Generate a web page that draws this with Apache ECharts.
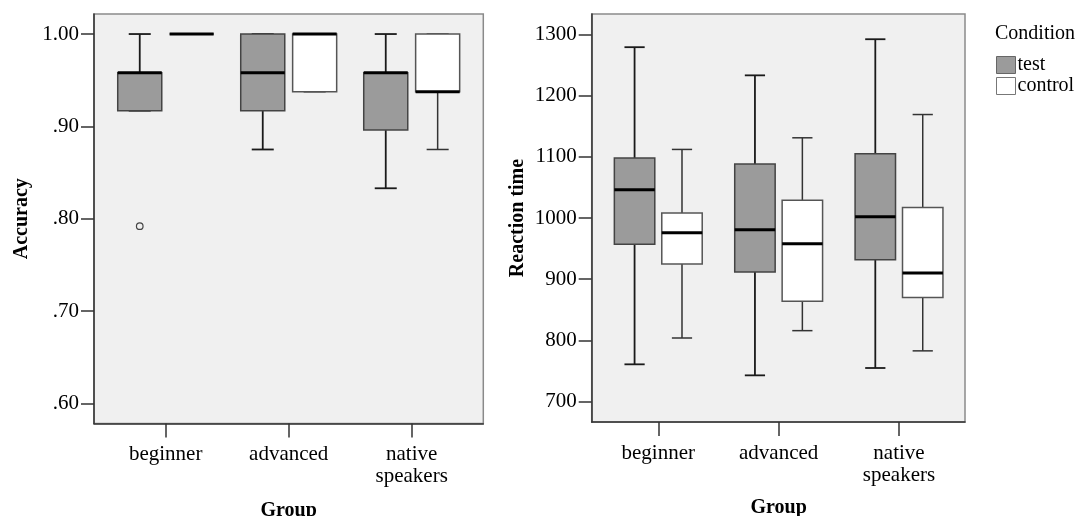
<!DOCTYPE html>
<html>
<head>
<meta charset="utf-8">
<script src="https://cdn.jsdelivr.net/npm/echarts@6/dist/echarts.min.js"></script>
<style>
html,body{margin:0;padding:0;background:#fff;}
#chart{width:1081px;height:516px;}
</style>
</head>
<body>
<div id="chart"></div>
<script>
// ---- data ----
const groups = ['beginner', 'advanced', 'native\nspeakers'];
// [low whisker, Q1, median, Q3, high whisker]
const accTest = [
  [0.917, 0.917, 0.958, 0.958, 1.000],
  [0.875, 0.917, 0.958, 1.000, 1.000],
  [0.833, 0.896, 0.958, 0.958, 1.000]
];
const accControl = [
  [1.000, 1.000, 1.000, 1.000, 1.000],
  [0.9375, 0.9375, 1.000, 1.000, 1.000],
  [0.875, 0.9375, 0.9375, 1.000, 1.000]
];
const accTestOutliers = [[0, 0.792]];
const rtTest = [
  [761, 957, 1046, 1098, 1279],
  [743, 912, 981, 1088, 1233],
  [755, 932, 1002, 1105, 1292]
];
const rtControl = [
  [804, 925, 976, 1008, 1112],
  [816, 864, 958, 1029, 1131],
  [783, 870, 910, 1017, 1169]
];
const accTickValues = [0.6, 0.7, 0.8, 0.9, 1.0];
const accTickLabels = ['.60', '.70', '.80', '.90', '1.00'];
const rtTickValues = [700, 800, 900, 1000, 1100, 1200, 1300];
const rtTickLabels = ['700', '800', '900', '1000', '1100', '1200', '1300'];
const legendNames = ['test', 'control'];

// ---- styles ----
const FONT = '"Liberation Serif", "DejaVu Serif", serif';
const TEST_FILL = '#9b9b9b';
const CONTROL_FILL = '#ffffff';

function toRows(arr) { return arr.map((r, i) => [i].concat(r)); }

function makeBoxRender(offsetFrac, widthFrac, fill, stroke, wColor, wWidth) {
  return function (params, api) {
    const ci = api.value(0);
    const band = api.size([1, 0])[0];
    const cx = api.coord([ci, api.value(3)])[0] + offsetFrac * band;
    const w = widthFrac * band;
    const cap = w / 2;
    const Y = v => api.coord([ci, v])[1];
    const yl = Y(api.value(1)), yq1 = Y(api.value(2)), ym = Y(api.value(3)),
          yq3 = Y(api.value(4)), yh = Y(api.value(5));
    const ls = { stroke: wColor, lineWidth: wWidth };
    const children = [
      { type: 'line', shape: { x1: cx, y1: yh, x2: cx, y2: yq3 }, style: ls },
      { type: 'line', shape: { x1: cx, y1: yq1, x2: cx, y2: yl }, style: ls },
      { type: 'line', shape: { x1: cx - cap / 2, y1: yh, x2: cx + cap / 2, y2: yh }, style: ls },
      { type: 'line', shape: { x1: cx - cap / 2, y1: yl, x2: cx + cap / 2, y2: yl }, style: ls },
      { type: 'rect', shape: { x: cx - w / 2, y: yq3, width: w, height: yq1 - yq3 },
        style: { fill: fill, stroke: stroke, lineWidth: 1.5 } },
      { type: 'line', shape: { x1: cx - w / 2, y1: ym, x2: cx + w / 2, y2: ym },
        style: { stroke: '#000', lineWidth: 3 } }
    ];
    return { type: 'group', children: children };
  };
}

function makeOutlierRender(offsetFrac) {
  return function (params, api) {
    const ci = api.value(0);
    const band = api.size([1, 0])[0];
    const p = api.coord([ci, api.value(1)]);
    return { type: 'circle', shape: { cx: p[0] + offsetFrac * band, cy: p[1], r: 3.3 },
             style: { fill: 'none', stroke: '#444', lineWidth: 1.2 } };
  };
}

// panel geometry (outer frame and inner band region)
const L = { left: 94, top: 14, width: 389.3, height: 409.5, innerLeft: 104.2, innerWidth: 369 };
const R = { left: 591.7, top: 14, width: 373.3, height: 408, innerLeft: 598.1, innerWidth: 361.1 };
const accMin = 0.5783, accMax = 1.0217;
const rtMin = 666.8, rtMax = 1333.2;

function outerGrid(p) {
  return { left: p.left, top: p.top, width: p.width, height: p.height, show: true,
           backgroundColor: '#f0f0f0', borderColor: '#8a8a8a', borderWidth: 1.5,
           containLabel: false, outerBoundsMode: 'none' };
}
function innerGrid(p) {
  return { left: p.innerLeft, top: p.top, width: p.innerWidth, height: p.height,
           containLabel: false, outerBoundsMode: 'none' };
}

const axisTextStyle = { fontFamily: FONT, fontSize: 21, color: '#000' };
const nameTextStyle = { fontFamily: FONT, fontSize: 20, fontWeight: 'bold', color: '#000' };

function outerX(gi) {
  return { type: 'value', gridIndex: gi, min: 0, max: 1,
           axisLine: { show: true, lineStyle: { color: '#333', width: 1.5 } },
           axisTick: { show: false }, axisLabel: { show: false }, splitLine: { show: false } };
}
function outerY(gi, min, max, vals, labs, name, gap) {
  return { type: 'value', gridIndex: gi, min: min, max: max,
           name: name, nameLocation: 'middle', nameGap: gap, nameRotate: 90, nameTextStyle: nameTextStyle,
           axisLine: { show: true, lineStyle: { color: '#333', width: 1.5 } },
           axisTick: { show: true, length: 13, customValues: vals, lineStyle: { color: '#333', width: 1.5 } },
           axisLabel: { show: true, margin: 15, customValues: vals,
                        formatter: v => { const i = vals.findIndex(t => Math.abs(t - v) < 1e-6); return i >= 0 ? labs[i] : ''; },
                        ...axisTextStyle },
           splitLine: { show: false } };
}
function innerX(gi, gap) {
  return { type: 'category', gridIndex: gi, data: groups, boundaryGap: true,
           name: 'Group', nameLocation: 'middle', nameGap: gap, nameTextStyle: nameTextStyle,
           axisLine: { show: false },
           axisTick: { show: true, alignWithLabel: true, length: 14, lineStyle: { color: '#333', width: 1.5 } },
           axisLabel: { show: true, margin: 20, lineHeight: 22, interval: 0, ...axisTextStyle },
           splitLine: { show: false } };
}
function innerY(gi, min, max) {
  return { type: 'value', gridIndex: gi, min: min, max: max, show: false, splitLine: { show: false } };
}

const LOFF = 0.211, LW = 0.358;
const ROFF = 0.197, RW = 0.336;

const option = {
  animation: false,
  backgroundColor: '#ffffff',
  title: [{ text: 'Condition', left: 995, top: 24, padding: 0,
            textStyle: { fontFamily: FONT, fontSize: 20, fontWeight: 'normal', color: '#000' } }],
  legend: {
    orient: 'vertical', left: 996, top: 55, padding: 0, itemWidth: 19, itemHeight: 17, itemGap: 1,
    selectedMode: false,
    textStyle: { fontFamily: FONT, fontSize: 20, lineHeight: 17, color: '#000', padding: [0, 0, 0, -3] },
    data: [
      { name: legendNames[0], icon: 'rect', itemStyle: { color: TEST_FILL, borderColor: '#666', borderWidth: 1 } },
      { name: legendNames[1], icon: 'rect', itemStyle: { color: CONTROL_FILL, borderColor: '#777', borderWidth: 1 } }
    ]
  },
  grid: [outerGrid(L), innerGrid(L), outerGrid(R), innerGrid(R)],
  xAxis: [outerX(0), innerX(1, 77), outerX(2), innerX(3, 76)],
  yAxis: [
    outerY(0, accMin, accMax, accTickValues, accTickLabels, 'Accuracy', 62),
    innerY(1, accMin, accMax),
    outerY(2, rtMin, rtMax, rtTickValues, rtTickLabels, 'Reaction time', 64),
    innerY(3, rtMin, rtMax)
  ],
  series: [
    { type: 'custom', name: 'test', xAxisIndex: 1, yAxisIndex: 1, data: toRows(accTest),
      encode: { x: 0, y: [1, 2, 3, 4, 5] }, itemStyle: { color: TEST_FILL },
      renderItem: makeBoxRender(-LOFF, LW, TEST_FILL, '#444', '#1a1a1a', 1.8) },
    { type: 'custom', name: 'control', xAxisIndex: 1, yAxisIndex: 1, data: toRows(accControl),
      encode: { x: 0, y: [1, 2, 3, 4, 5] }, itemStyle: { color: CONTROL_FILL },
      renderItem: makeBoxRender(LOFF, LW, CONTROL_FILL, '#555', '#333', 1.5) },
    { type: 'custom', name: 'test', xAxisIndex: 1, yAxisIndex: 1, data: accTestOutliers,
      encode: { x: 0, y: 1 }, itemStyle: { color: TEST_FILL },
      renderItem: makeOutlierRender(-LOFF) },
    { type: 'custom', name: 'test', xAxisIndex: 3, yAxisIndex: 3, data: toRows(rtTest),
      encode: { x: 0, y: [1, 2, 3, 4, 5] }, itemStyle: { color: TEST_FILL },
      renderItem: makeBoxRender(-ROFF, RW, TEST_FILL, '#444', '#1a1a1a', 1.8) },
    { type: 'custom', name: 'control', xAxisIndex: 3, yAxisIndex: 3, data: toRows(rtControl),
      encode: { x: 0, y: [1, 2, 3, 4, 5] }, itemStyle: { color: CONTROL_FILL },
      renderItem: makeBoxRender(ROFF, RW, CONTROL_FILL, '#555', '#333', 1.5) }
  ]
};

const chart = echarts.init(document.getElementById('chart'), null, { renderer: 'canvas', width: 1081, height: 516 });
chart.setOption(option);
</script>
</body>
</html>
